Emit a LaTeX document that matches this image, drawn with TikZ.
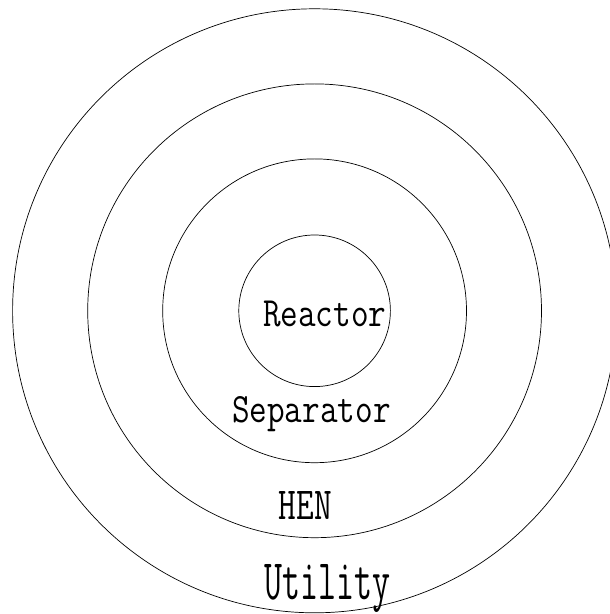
\documentclass[tikz,border=0pt]{standalone}
\usepackage{fontspec}
\usepackage{graphicx}

\newcommand{\tagtext}[3]{\scalebox{#2}[1]{\fontsize{#1}{#1}\selectfont\ttfamily #3}}

\begin{document}
\begin{tikzpicture}[
        x=1pt, y=1pt,
        ring/.style={
            draw,
            circle,
            line width=0.7pt,
            inner sep=0pt
        },
        tag/.style={
            anchor=base,
            inner sep=0pt
        }
    ]

    \useasboundingbox (0,0) rectangle (610,614);

    \coordinate (core) at (314.6,303.2);

    \node[ring, minimum size=604pt] (utilring) at (core) {};
    \node[ring, minimum size=453.8pt] (henring) at (core) {};
    \node[ring, minimum size=303.8pt] (sepring) at (core) {};
    \node[ring, minimum size=151.6pt] (reacring) at (core) {};

    \node[tag] (reactor) at (324.8,287.3) {\tagtext{41.7}{0.82}{Reactor}};
    \node[tag] (separator) at (311.4,191.7) {\tagtext{41.7}{0.82}{Separator}};
    \node[tag] (hen) at (305.5,94) {\tagtext{45.8}{0.75}{HEN}};
    \node[tag] (utility) at (327.5,14) {\tagtext{57.3}{0.61}{Utility}};

\end{tikzpicture}
\end{document}
